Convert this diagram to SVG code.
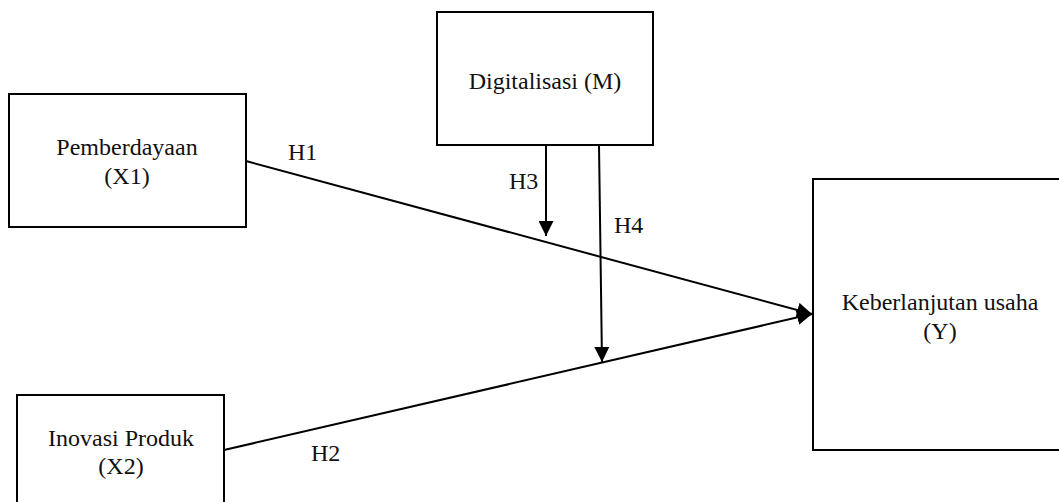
<svg xmlns="http://www.w3.org/2000/svg" width="1059" height="502" viewBox="0 0 1059 502">
<style>
.box{fill:#fff;stroke:#000;stroke-width:2}
.t{font-family:"Liberation Serif","Times New Roman",serif;font-size:24px;fill:#111}
.c{text-anchor:middle}
.ln{stroke:#000;stroke-width:2;fill:none}
</style>
<defs>
<marker id="ah" viewBox="0 0 10 10" refX="10" refY="5" markerWidth="15" markerHeight="15" markerUnits="userSpaceOnUse" orient="auto">
<path d="M0,0 L10,5 L0,10 Z" fill="#000"/>
</marker>
</defs>
<rect width="1059" height="502" fill="#fff"/>
<g id="node-x1">
<rect class="box" x="9" y="94" width="237" height="133"/>
<text class="t c" x="127" y="155">Pemberdayaan</text>
<text class="t c" x="127" y="184">(X1)</text>
</g>
<g id="node-m">
<rect class="box" x="437" y="12" width="216" height="133"/>
<text class="t c" x="545" y="89">Digitalisasi (M)</text>
</g>
<g id="node-x2">
<rect class="box" x="17" y="395" width="207" height="120"/>
<text class="t c" x="121" y="446">Inovasi Produk</text>
<text class="t c" x="121" y="474">(X2)</text>
</g>
<g id="node-y">
<rect class="box" x="813" y="179" width="260" height="271"/>
<text class="t c" x="940" y="310">Keberlanjutan usaha</text>
<text class="t c" x="940" y="339">(Y)</text>
</g>
<g id="connectors">
<line class="ln" x1="246" y1="161" x2="812" y2="314" marker-end="url(#ah)"/>
<line class="ln" x1="224" y1="450" x2="812" y2="314" marker-end="url(#ah)"/>
<line class="ln" x1="546" y1="145" x2="546" y2="236" marker-end="url(#ah)"/>
<line class="ln" x1="599" y1="145" x2="602" y2="362" marker-end="url(#ah)"/>
</g>
<g id="labels">
<text class="t" x="288" y="160">H1</text>
<text class="t" x="311" y="461">H2</text>
<text class="t" x="509" y="189">H3</text>
<text class="t" x="614" y="233">H4</text>
</g>
</svg>
